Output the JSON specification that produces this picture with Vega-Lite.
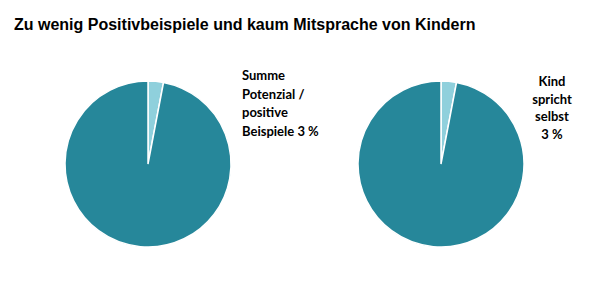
{
  "$schema": "https://vega.github.io/schema/vega-lite/v6.json",
  "padding": {"top": 17, "left": 5, "right": 5, "bottom": 5},
  "bounds": "flush",
  "spacing": 7,
  "background": "white",
  "title": {
    "text": "Zu wenig Positivbeispiele und kaum Mitsprache von Kindern",
    "anchor": "start",
    "font": "Liberation Sans",
    "fontSize": 16,
    "fontWeight": "bold",
    "color": "#000000",
    "dx": 9,
    "offset": 31
  },
  "datasets": {
    "pie1": [
      {"kind": "Summe Potenzial / positive Beispiele", "part": "klein", "value": 3, "order": 1},
      {"kind": "Rest", "part": "rest", "value": 97, "order": 2}
    ],
    "pie2": [
      {"kind": "Kind spricht selbst", "part": "klein", "value": 3, "order": 1},
      {"kind": "Rest", "part": "rest", "value": 97, "order": 2}
    ],
    "label1": [{"label": "Summe\nPotenzial /\npositive\nBeispiele 3 %"}],
    "label2": [{"label": "Kind\nspricht\nselbst\n3 %"}]
  },
  "hconcat": [
    {
      "width": 286,
      "height": 200,
      "layer": [
        {
          "data": {"name": "pie1"},
          "mark": {"type": "arc", "outerRadius": 83, "stroke": "white", "strokeWidth": 1.5},
          "encoding": {
            "theta": {"field": "value", "type": "quantitative", "stack": true},
            "color": {"field": "part", "type": "nominal", "scale": {"domain": ["klein", "rest"], "range": ["#8FD0DC", "#26879A"]}, "legend": null},
            "order": {"field": "order", "type": "quantitative"}
          }
        },
        {
          "data": {"name": "label1"},
          "mark": {"type": "text", "align": "left", "baseline": "alphabetic", "dx": 94, "dy": -84, "font": "Lato", "fontWeight": "bold", "fontSize": 13, "lineHeight": 18.5, "lineBreak": "\n", "color": "#000000"},
          "encoding": {"text": {"field": "label", "type": "nominal"}}
        }
      ]
    },
    {
      "width": 286,
      "height": 200,
      "layer": [
        {
          "data": {"name": "pie2"},
          "mark": {"type": "arc", "outerRadius": 83, "stroke": "white", "strokeWidth": 1.5},
          "encoding": {
            "theta": {"field": "value", "type": "quantitative", "stack": true},
            "color": {"field": "part", "type": "nominal", "scale": {"domain": ["klein", "rest"], "range": ["#8FD0DC", "#26879A"]}, "legend": null},
            "order": {"field": "order", "type": "quantitative"}
          }
        },
        {
          "data": {"name": "label2"},
          "mark": {"type": "text", "align": "center", "baseline": "alphabetic", "dx": 111, "dy": -78, "font": "Lato", "fontWeight": "bold", "fontSize": 13, "lineHeight": 17.5, "lineBreak": "\n", "color": "#000000"},
          "encoding": {"text": {"field": "label", "type": "nominal"}}
        }
      ]
    }
  ],
  "config": {"view": {"stroke": null}}
}
